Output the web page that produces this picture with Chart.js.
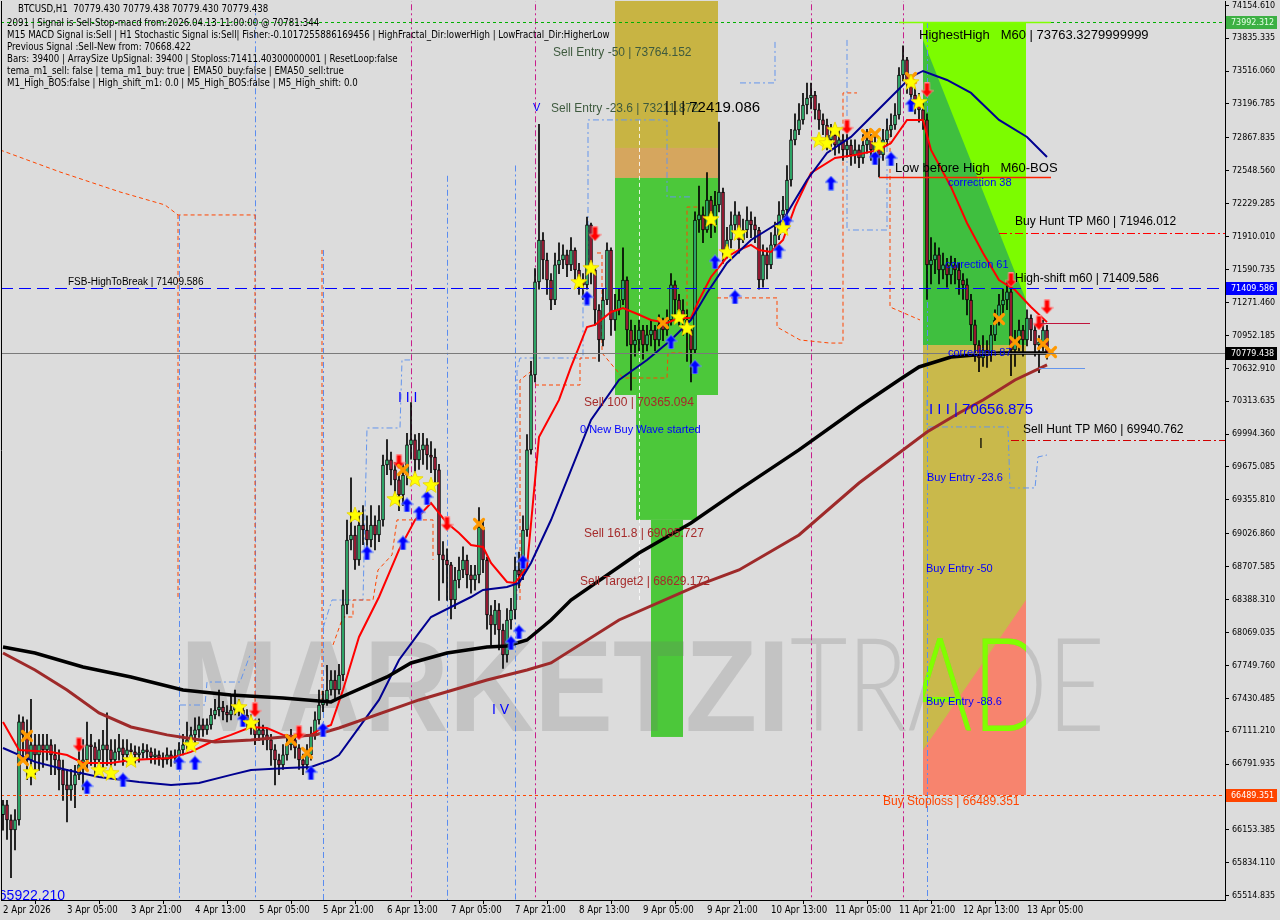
<!DOCTYPE html>
<html>
<head>
<meta charset="utf-8">
<script src="https://cdn.jsdelivr.net/npm/chart.js@4.4.1/dist/chart.umd.min.js"></script>
<style>
html, body { margin: 0; padding: 0; background: #dcdcdc; }
#chart { display: block; }
</style>
</head>
<body>
<canvas id="chart" width="1280" height="920"></canvas>
<script>
// BTCUSD H1 candles, bar 0 = 2 Apr 13:00
const firstOpen = 66300;
const closes = [
66396,66250,66153,66250,67201,67075,66832,66978,66881,66978,66929,66978,66881,
66832,66735,66590,66541,66590,66687,66784,66832,66978,66960,66832,66929,66978,
66929,66832,66910,66949,66881,66929,66910,66881,66900,66929,66910,66861,66881,
66852,66832,66881,66852,66871,66929,66978,67026,67075,67123,67172,67123,67172,
67268,67317,67346,67297,67268,67317,67365,67317,67268,67220,67143,67075,67123,
67075,67026,66929,66832,66784,66881,66978,67026,66949,66832,66784,66881,67075,
67220,67365,67414,67511,67608,67511,67656,68336,68966,69015,68772,69112,69063,
68966,69112,69015,69160,69694,69743,69646,69549,69403,69597,69889,69937,69743,
69840,69889,69791,69770,69646,68821,68772,68724,68384,68578,68675,68772,68627,
68578,68627,69092,68772,68239,68142,68287,68093,67850,68190,68287,68675,68627,
69063,69840,70568,71470,71877,71683,71489,71295,71635,71683,71732,71635,71780,
71586,71489,71441,72023,71586,71198,70907,71295,71780,71101,71198,71295,71489,
71004,70858,70907,71004,70858,70956,71004,70907,71053,71004,71101,71441,71295,
71198,71101,71004,70810,72071,72120,71974,72265,72023,72217,72343,71780,71877,
72023,72120,71877,71974,72071,72023,71974,71489,71732,71635,71829,71926,72120,
72168,72459,72848,72945,73042,73187,73255,73284,73139,73042,72993,72848,72896,
72799,72848,72751,72799,72702,72751,72673,72799,72848,72751,72799,72702,72848,
72945,72993,73090,73478,73624,73430,73284,73236,73139,73042,71635,71683,71732,
71586,71635,71538,71635,71586,71489,71441,71295,71053,70858,70732,70810,70790,
70956,71101,71247,71295,71373,70810,70907,71004,70907,71120,71004,70858,70888,
71004,70779.438
];
const highs = [
66440,66440,66300,66350,67270,67250,67220,67420,67080,67080,67080,67080,67030,
66980,66930,66830,66740,66740,66780,66950,67030,67200,67080,67000,67030,67120,
67290,67030,67030,67080,67030,67030,66990,66970,66960,66990,66980,66950,66940,
66920,66900,66950,66920,66930,67000,67080,67200,67150,67240,67250,67230,67230,
67330,67420,67510,67400,67360,67460,67510,67420,67360,67320,67270,67180,67230,
67170,67130,67080,66980,66890,66980,67080,67130,67060,66980,66890,66980,67150,
67300,67510,67500,67750,67700,67700,67760,68480,69160,69570,69100,69250,69300,
69200,69300,69200,69300,69790,69940,69820,69720,69600,69700,70000,70300,69990,
70000,70000,69950,69920,69850,69700,68950,68880,68750,68700,68800,68900,68820,
68720,68720,69280,69150,68800,68330,68380,68350,68150,68300,68400,68800,68850,
69200,69990,70700,71600,73000,71950,71750,71550,71750,71850,71830,71780,71900,
71800,71650,71550,72100,72040,71620,71250,71400,71850,71800,71350,71400,71800,
71520,71100,71050,71100,71050,71050,71100,71050,71150,71120,71200,71550,71480,
71350,71300,71200,71050,72150,72400,72200,72530,72300,72350,73020,72380,72000,
72150,72250,72150,72080,72200,72150,72100,72000,71830,71800,71950,72050,72250,
72300,72600,72950,73100,73200,73300,73400,73400,73320,73200,73100,73050,73000,
72950,72950,72900,72900,72850,72850,72800,72900,72950,72900,72900,72850,72950,
73050,73100,73200,73550,73760,73650,73480,73350,73300,73200,73100,71900,71850,
71800,71750,71700,71720,71700,71650,71550,71500,71350,71100,70900,70950,70900,
71050,71200,71350,71400,71480,71400,71000,71100,71050,71200,71150,71050,70950,
71100,71050
];
const lows = [
66150,66060,65690,65960,66200,66830,66640,66590,66690,66730,66760,66830,66690,
66690,66540,66440,66230,66440,66370,66640,66540,66740,66780,66690,66810,66740,
66780,66740,66780,66830,66780,66810,66830,66800,66810,66850,66840,66800,66790,
66780,66760,66790,66770,66800,66830,66880,66940,66980,66980,67050,67060,67080,
67130,67230,67260,67220,67200,67220,67270,67260,67200,67130,67080,66980,67020,
66980,66930,66780,66590,66690,66740,66830,66930,66850,66740,66690,66740,66830,
67030,67180,67300,67360,67460,67420,67470,67600,68250,68870,68680,68720,68920,
68800,68900,68870,68950,69100,69600,69500,69400,69250,69300,69500,69750,69620,
69650,69700,69650,69620,69500,68380,68550,68380,68200,68300,68500,68600,68500,
68450,68480,68550,68650,68100,67950,68050,67900,67720,67780,68100,68200,68500,
68580,69000,69800,70500,71400,71500,71350,71200,71250,71550,71600,71520,71580,
71480,71350,71300,71400,71450,71050,70700,70850,71250,70950,71000,71150,71250,
70850,70420,70750,70800,70720,70800,70850,70800,70850,70900,70950,71050,71150,
71050,70950,70700,70500,70780,71950,71850,71950,71900,71950,72150,71650,71700,
71800,71950,71750,71850,71900,71900,71850,71400,71420,71500,71600,71780,71880,
72050,72100,72400,72800,72900,73000,73100,73150,73050,72950,72900,72750,72780,
72700,72720,72650,72680,72600,72620,72580,72620,72720,72650,72680,72490,72650,
72800,72880,72950,73050,73420,73300,73200,73100,73020,72950,71300,71450,71550,
71450,71500,71420,71450,71450,71350,71300,71150,70900,70700,70600,70650,70640,
70700,70900,71050,71150,71200,70560,70650,70800,70750,70850,70900,70750,70590,
70800,70720
];

// moving averages, read at bar indexes
const redIdx = [0,4,12,16,20,27,32,42,47,52,57,62,66,70,74,77,79,82,85,89,94,99,103,107,111,114,117,120,122,126,128,131,134,139,142,146,148,152,155,158,162,166,169,172,174,177,181,184,187,189,192,195,198,202,208,213,219,222,226,230,232,237,241,245,249,253,257,261];
const redVal = [67200,66929,66910,66880,66803,66803,66832,66851,66910,67006,67075,67152,67142,67075,67055,67075,67123,67171,67511,68025,68413,68870,69160,69325,69131,69034,68918,68898,68743,68559,68549,68704,69966,70325,70645,71033,71053,71179,71217,71169,71101,71072,71120,71120,71295,71518,71712,71780,71829,71780,71761,71877,72198,72527,72673,72702,72751,72818,73042,73042,72751,72392,72042,71751,71489,71392,71227,71080];
const blueIdx = [0,8,16,24,34,42,49,57,62,71,77,82,84,94,99,104,107,112,117,120,126,129,132,137,141,147,154,161,167,172,176,181,187,195,201,206,212,217,222,227,230,236,242,249,256,261];
const blueVal = [66948,66813,66735,66667,66619,66590,66609,66687,66735,66754,66764,66832,66880,67414,67802,68064,68219,68316,68413,68481,68510,68549,68743,69160,69548,70131,70519,70713,70907,71101,71363,71654,71877,72071,72459,72721,72877,73071,73265,73459,73517,73430,73304,73042,72877,72683];
const blackIdx = [0,8,20,32,45,57,70,82,84,96,102,111,121,126,131,137,142,159,172,184,199,214,224,229,237,249,261];
const blackVal = [67928,67870,67734,67637,67511,67462,67433,67395,67433,67637,67773,67870,67928,67938,67996,68190,68384,68840,69131,69452,69840,70257,70519,70645,70742,70781,70781];
const brownIdx = [0,8,16,24,32,41,46,53,62,70,78,84,104,121,131,137,154,174,184,199,214,225,231,239,245,253,261];
const brownVal = [67870,67705,67511,67288,67152,67075,67045,67006,67026,67055,67075,67142,67414,67608,67705,67773,68190,68530,68675,69015,69519,69840,70014,70199,70325,70519,70665];

// fractal step lines (orange dashed and blue dash-dot), one entry per path
const orangePaths = [
  { idx: [-0.75,14.25,29.25,40.5,43.75,63], val: [72751,72537,72343,72217,72120,72120] },
  { idx: [43.75,43.75], val: [72120,68384] },
  { idx: [63,63], val: [72120,66977] },
  { idx: [79.75,79.75], val: [71780,67414] },
  { idx: [82.5,85,87.5,87.5,92.5,93.75,97.25,98.5,107.5,107.5], val: [67948,68219,68219,68384,68384,68675,68821,69161,69161,68772] },
  { idx: [129.25,129.25,132.5], val: [68384,70519,70616] },
  { idx: [133,144.25,144.25,148.5], val: [70470,70470,70732,70732] },
  { idx: [148.5,149.75,149.75,155,166,166.25,171,171,174.25], val: [71751,71751,70781,70538,70538,70781,70781,72197,72197] },
  { idx: [178.5,193.5,193.5,199.25,206.75,210,210,213.5], val: [71315,71315,71033,70907,70877,70877,73304,73304] },
  { idx: [221.75,221.75,229.25], val: [72974,71227,71101] }
];
const bluePaths = [
  { idx: [44.25,50.5,51,59.25,61.75], val: [67365,67365,67588,67588,67850] },
  { idx: [80,82.25,90,91,99.25,99.75,101.75], val: [68112,68384,68384,70053,70053,70713,70713] },
  { idx: [128.5,128.5,129.25,145,145], val: [68384,70616,70732,70732,71421] },
  { idx: [146.25,146.25,166,166,172.25], val: [71460,73042,73042,72295,72295] },
  { idx: [184.25,193,193], val: [73401,73401,73818] },
  { idx: [211,211,221,221], val: [73818,71974,71974,73071] },
  { idx: [231,231,251.25,251.75,258,258.75,261], val: [70325,70063,70063,69471,69471,69772,69791] }
];

// signal marks
const starIdx = [7,24,27,32,47,59,62,88,98,103,107,144,147,169,171,177,181,184,195,204,206,208,219,227,229];
const starVal = [66715,66735,66706,66832,66978,67346,67191,69209,69364,69558,69500,71470,71606,71130,71024,72081,71761,71945,71994,72848,72818,72945,72799,73410,73216];
const crossIdx = [6,5,20,72,76,100,119,165,216,218,227,249,253,260,262];
const crossVal = [67065,66832,66774,67026,66900,69646,69122,71072,72896,72906,73449,71111,70888,70868,70790];
const upIdx = [21,30,44,48,60,77,80,91,100,101,104,106,127,129,130,146,167,173,178,183,194,196,207,218,222,227];
const upVal = [66570,66638,66803,66803,67220,66706,67123,68840,68937,69306,69228,69374,67967,68074,68753,71314,70888,70645,71664,71324,71770,72052,72430,72673,72663,73187];
const downIdx = [19,63,74,99,111,148,211,231,252,259,261];
const downVal = [66978,67317,67094,69723,69122,71936,72974,73333,71489,71072,71227];

// axes
const yTicks = [74154.610,73835.335,73516.060,73196.785,72867.835,72548.560,72229.285,71910.010,71590.735,71271.460,70952.185,70632.910,70313.635,69994.360,69675.085,69355.810,69026.860,68707.585,68388.310,68069.035,67749.760,67430.485,67111.210,66791.935,66472.660,66153.385,65834.110,65514.835];
const xTickIdx = [0,16,32,48,64,80,96,112,128,144,160,176,192,208,224,240,256];
const xTickLabels = ["2 Apr 2026","3 Apr 05:00","3 Apr 21:00","4 Apr 13:00","5 Apr 05:00","5 Apr 21:00","6 Apr 13:00","7 Apr 05:00","7 Apr 21:00","8 Apr 13:00","9 Apr 05:00","9 Apr 21:00","10 Apr 13:00","11 Apr 05:00","11 Apr 21:00","12 Apr 13:00","13 Apr 05:00"];

const FONT = '"Liberation Sans", Arial, sans-serif';
const UIFONT = '"DejaVu Sans Condensed", "Liberation Sans", sans-serif';

const headerLines = [
  "BTCUSD,H1  70779.430 70779.438 70779.430 70779.438",
  "2091 | Signal is Sell-Stop-macd from:2026.04.13 11:00:00 @ 70781:344",
  "M15 MACD Signal is:Sell | H1 Stochastic Signal is:Sell| Fisher:-0.1017255886169456 | HighFractal_Dir:lowerHigh | LowFractal_Dir:HigherLow",
  "Previous Signal :Sell-New from: 70668.422",
  "Bars: 39400 | ArraySize UpSignal: 39400 | Stoploss:71411.40300000001 | ResetLoop:false",
  "tema_m1_sell: false | tema_m1_buy: true | EMA50_buy:false | EMA50_sell:true",
  "M1_High_BOS:false | High_shift_m1: 0.0 | M5_High_BOS:false | M5_High_shift: 0.0"
];

// zones: bar index range and price range
const zones = [
  { i0: 153, i1: 178.75, top: 74300, bottom: 72770, color: '#c8b443' },
  { i0: 153, i1: 178.75, top: 72770, bottom: 72479, color: '#d6a65e' },
  { i0: 153, i1: 178.75, top: 72479, bottom: 70373, color: '#4cc83a' },
  { i0: 158.25, i1: 173.5, top: 70373, bottom: 69161, color: '#4cc83a' },
  { i0: 162, i1: 170, top: 69161, bottom: 67055, color: '#4cc83a' },
  { i0: 230, i1: 255.75, top: 73992, bottom: 70858, color: '#7cfc00' },
  { i0: 230, i1: 255.75, top: 70858, bottom: 66493, color: '#c9b94b' }
];
const zonePolys = [
  { pts: [[230, 73818], [255.75, 71295], [255.75, 70858], [230, 70858]], color: '#3fbf3f' },
  { pts: [[230, 66929], [255.75, 68384], [255.75, 66493], [230, 66493]], color: '#f7846e' }
];

const levels = [
  { v: 73992.312, color: '#00b000', dash: [3, 3], w: 1 },
  { v: 71409.586, color: '#0000ff', dash: [12, 6], w: 1 },
  { v: 70779.438, color: '#7a7a7a', dash: [], w: 1 },
  { v: 66489.351, color: '#ff4500', dash: [3, 3], w: 1 },
  { v: 71946.012, i0: 249, color: '#ff0000', dash: [8, 3, 2, 3], w: 1 },
  { v: 69940.762, i0: 252, color: '#d00000', dash: [8, 3, 2, 3], w: 1 },
  { v: 72489, i0: 219, i1: 262, color: '#ff2000', dash: [], w: 1.5 },
  { v: 73992.312, i0: 224, i1: 262, color: '#80ff00', dash: [], w: 1.5 },
  { v: 71072, i0: 259, i1: 271.75, color: '#c0143c', dash: [], w: 1 },
  { v: 70636, i0: 259, i1: 270.5, color: '#6495ed', dash: [], w: 1 }
];

const vLines = [
  { i: 44, top: 72120, color: '#5a8cf0' },
  { i: 63, top: 74300, color: '#5a8cf0' },
  { i: 80, top: 71780, color: '#5a8cf0' },
  { i: 111, top: 72500, color: '#5a8cf0' },
  { i: 128, top: 72600, color: '#5a8cf0' },
  { i: 231, top: 73992, color: '#5a8cf0' },
  { i: 102, top: 74300, color: '#c81e8c' },
  { i: 133, top: 74300, color: '#c81e8c' },
  { i: 202, top: 74300, color: '#c81e8c' },
  { i: 225, top: 74300, color: '#c81e8c' }
];

const notes = [
  ["Sell Entry -50 | 73764.152", 137.5, 73692, '#3e5a3e', 12],
  ["Sell Entry -23.6 | 73211.872", 137, 73148, '#3e5a3e', 12],
  ["| | | 72419.086", 165.5, 73158, '#000000', 15],
  ["V", 132.5, 73158, '#0000ff', 11],
  ["HighestHigh   M60 | 73763.3279999999", 229, 73866, '#000000', 13],
  ["Low before High   M60-BOS", 223, 72576, '#000000', 13],
  ["correction 38", 236.25, 72430, '#0000ff', 11],
  ["Buy Hunt TP M60 | 71946.012", 253, 72052, '#000000', 12],
  ["correction 61", 235.5, 71635, '#0000ff', 11],
  ["High-shift m60 | 71409.586", 253, 71499, '#000000', 12],
  ["correction 87", 236.25, 70781, '#0000ff', 11],
  ["FSB-HighToBreak | 71409.586", 16.25, 71470, '#000000', 10],
  ["I I I | 70656.875", 231.5, 70228, '#0000ff', 15],
  ["Sell Hunt TP M60 | 69940.762", 255, 70034, '#000000', 12],
  ["Sell 100 | 70365.094", 145.25, 70296, '#a52a2a', 12],
  ["0 New Buy Wave started", 144.25, 70034, '#0000ff', 11],
  ["Sell 161.8 | 69095.727", 145.25, 69024, '#a52a2a', 12],
  ["Sell Target2 | 68629.172", 144.25, 68559, '#a52a2a', 12],
  ["Buy Entry -23.6", 231, 69568, '#0000ff', 11],
  ["Buy Entry -50", 230.75, 68685, '#0000ff', 11],
  ["Buy Entry -88.6", 230.75, 67395, '#0000ff', 11],
  ["Buy Stoploss | 66489.351", 220, 66424, '#ff4500', 12],
  ["I I I", 98.75, 70344, '#0000ff', 14],
  ["I V", 122.25, 67317, '#0000ff', 14],
  ["I", 244, 69898, '#000000', 14]
];

const priceBoxes = [
  { v: 73992.312, bg: '#3cb043', fg: '#e6ffe6' },
  { v: 71409.586, bg: '#0000ff', fg: '#ffffff' },
  { v: 70779.438, bg: '#000000', fg: '#ffffff' },
  { v: 66489.351, bg: '#ff4500', fg: '#ffffff' }
];

// ---- point icons ----
function makeIcon(w, h, draw) {
  const c = document.createElement('canvas');
  c.width = w; c.height = h;
  draw(c.getContext('2d'), w, h);
  return c;
}
const starIcon = makeIcon(18, 18, g => {
  g.beginPath();
  for (let k = 0; k < 10; k++) {
    const r = k % 2 ? 3.6 : 8.5;
    const a = -Math.PI / 2 + k * Math.PI / 5;
    g.lineTo(9 + r * Math.cos(a), 9.5 + r * Math.sin(a));
  }
  g.closePath();
  g.fillStyle = '#ffff00'; g.fill();
  g.strokeStyle = '#e8d000'; g.lineWidth = 0.8; g.stroke();
});
const crossIcon = makeIcon(14, 14, g => {
  g.strokeStyle = '#ff9900'; g.lineWidth = 3.2; g.lineCap = 'round';
  g.beginPath(); g.moveTo(2.5, 2.5); g.lineTo(11.5, 11.5); g.moveTo(11.5, 2.5); g.lineTo(2.5, 11.5); g.stroke();
});
function arrowIcon(color, edge, down) {
  return makeIcon(13, 15, g => {
    if (down) { g.translate(0, 15); g.scale(1, -1); }
    g.beginPath();
    g.moveTo(6.5, 0.5); g.lineTo(12.5, 7); g.lineTo(9, 7); g.lineTo(9, 14.5);
    g.lineTo(4, 14.5); g.lineTo(4, 7); g.lineTo(0.5, 7); g.closePath();
    g.fillStyle = color; g.fill();
    g.strokeStyle = edge; g.lineWidth = 1; g.stroke();
  });
}
const upIcon = arrowIcon('#0000ff', '#6f8fff', false);
const downIcon = arrowIcon('#ff0000', '#ff8a8a', true);

// ---- datasets ----
const opens = closes.map((c, i) => i === 0 ? firstOpen : closes[i - 1]);
const bodyData = closes.map((c, i) => ({ x: i, y: [opens[i], c] }));
const bodyColors = closes.map((c, i) => c >= opens[i] ? '#36c47a' : '#b01e3a');
const wickData = closes.map((c, i) => ({ x: i, y: [lows[i], highs[i]] }));

const pts = (idx, val) => idx.map((x, k) => ({ x: x, y: val[k] }));

function lineSet(idx, val, color, width) {
  return { type: 'line', data: pts(idx, val), borderColor: color, borderWidth: width,
    pointRadius: 0, tension: 0, fill: false, order: 2 };
}
function pathSet(p, color, dash) {
  return { type: 'line', data: pts(p.idx, p.val), borderColor: color, borderWidth: 1,
    borderDash: dash, pointRadius: 0, tension: 0, fill: false, order: 7 };
}
function markSet(idx, val, icon) {
  return { type: 'line', data: pts(idx, val), showLine: false, pointStyle: icon,
    pointRadius: 7, pointHoverRadius: 7, order: 0 };
}

// ---- drawing helpers ----
const X = (c, i) => c.scales.x.getPixelForValue(i);
const Y = (c, v) => c.scales.y.getPixelForValue(v);

const backdrop = {
  id: 'backdrop',
  beforeDraw(c) {
    const g = c.ctx;
    g.save();
    g.fillStyle = '#dcdcdc';
    g.fillRect(0, 0, c.width, c.height);
    g.restore();
  },
  beforeDatasetsDraw(c) {
    const g = c.ctx, a = c.chartArea;
    g.save();
    g.beginPath(); g.rect(a.left, a.top, a.right - a.left, a.bottom - a.top); g.clip();
    zones.forEach(z => {
      const x0 = X(c, z.i0), x1 = X(c, z.i1), y0 = Y(c, z.top), y1 = Y(c, z.bottom);
      g.fillStyle = z.color;
      g.fillRect(x0, y0, x1 - x0, y1 - y0);
    });
    zonePolys.forEach(p => {
      g.beginPath();
      p.pts.forEach(([i, v], k) => k ? g.lineTo(X(c, i), Y(c, v)) : g.moveTo(X(c, i), Y(c, v)));
      g.closePath(); g.fillStyle = p.color; g.fill();
    });
    // watermark
    const base = Y(c, 67113);
    g.textBaseline = 'alphabetic'; g.textAlign = 'left';
    g.font = 'bold 130px ' + FONT;
    let w = g.measureText('MARKETZI').width;
    g.save(); g.translate(X(c, 44.25), base); g.scale(610 / w, 1);
    g.fillStyle = 'rgba(110,110,110,0.22)'; g.fillText('MARKETZI', 0, 0); g.restore();
    g.font = '300 130px Lato, ' + FONT;
    w = g.measureText('TRADE').width;
    g.save(); g.translate(X(c, 196.75), base); g.scale(315 / w, 1);
    g.fillStyle = 'rgba(110,110,110,0.22)'; g.fillText('TRADE', 0, 0); g.restore();
    g.save();
    g.beginPath(); g.rect(X(c, 230), Y(c, 70858), X(c, 255.75) - X(c, 230), Y(c, 66493) - Y(c, 70858)); g.clip();
    g.translate(X(c, 196.75), base); g.scale(315 / w, 1);
    g.fillStyle = '#80ff00'; g.fillText('TRADE', 0, 0);
    g.restore();
    // vertical separators
    g.lineWidth = 1;
    g.setLineDash([6, 3, 2, 3]);
    vLines.forEach(l => {
      const x = Math.round(X(c, l.i)) + 0.5;
      g.strokeStyle = l.color;
      g.beginPath(); g.moveTo(x, Y(c, l.top)); g.lineTo(x, a.bottom); g.stroke();
    });
    g.strokeStyle = 'rgba(255,255,255,0.85)'; g.setLineDash([4, 3]);
    const wx = Math.round(X(c, 159)) + 0.5;
    g.beginPath(); g.moveTo(wx, Y(c, 73042)); g.lineTo(wx, Y(c, 68384)); g.stroke();
    g.restore();
  },
  afterDatasetsDraw(c) {
    const g = c.ctx, a = c.chartArea;
    g.save();
    g.beginPath(); g.rect(a.left, a.top, a.right - a.left, a.bottom - a.top); g.clip();
    levels.forEach(l => {
      const y = Math.round(Y(c, l.v)) + 0.5;
      const x0 = l.i0 === undefined ? a.left : X(c, l.i0);
      const x1 = l.i1 === undefined ? a.right : X(c, l.i1);
      g.strokeStyle = l.color; g.lineWidth = l.w; g.setLineDash(l.dash);
      g.beginPath(); g.moveTo(x0, y); g.lineTo(x1, y); g.stroke();
    });
    g.setLineDash([]);
    g.textBaseline = 'middle'; g.textAlign = 'left';
    notes.forEach(([s, i, v, col, size]) => {
      g.font = size + 'px ' + FONT; g.fillStyle = col;
      g.fillText(s, X(c, i), Y(c, v));
    });
    g.font = '14px ' + FONT; g.fillStyle = '#0000ff'; g.textAlign = 'right';
    g.fillText('65922.210', X(c, 15.5), a.bottom - 4);
    g.restore();

    // header text
    g.save();
    g.textBaseline = 'middle'; g.textAlign = 'left';
    g.font = '9.6px ' + UIFONT; g.fillStyle = '#000';
    headerLines.forEach((s, k) => {
      g.fillText(s, k === 0 ? 18 : 7, k === 0 ? 9 : 11 + 12 * k);
    });
    // frame
    g.strokeStyle = '#000'; g.lineWidth = 1;
    g.beginPath(); g.moveTo(a.left + 0.5, a.top); g.lineTo(a.left + 0.5, a.bottom); g.stroke();
    g.restore();
  },
  afterDraw(c) {
    const g = c.ctx, a = c.chartArea;
    g.save();
    g.font = '8.9px ' + UIFONT; g.textBaseline = 'middle'; g.textAlign = 'left';
    priceBoxes.forEach(b => {
      const y = Math.round(Y(c, b.v));
      g.fillStyle = b.bg; g.fillRect(a.right + 1, y - 6, 51, 13);
      g.fillStyle = b.fg; g.fillText(b.v.toFixed(3), a.right + 6, y + 0.5);
    });
    g.restore();
  }
};

new Chart(document.getElementById('chart').getContext('2d'), {
  type: 'bar',
  data: {
    datasets: [
      markSet(starIdx, starVal, starIcon),
      markSet(crossIdx, crossVal, crossIcon),
      markSet(upIdx, upVal, upIcon),
      markSet(downIdx, downVal, downIcon),
      lineSet(brownIdx, brownVal, '#9e2a2a', 3),
      lineSet(blackIdx, blackVal, '#000000', 3.5),
      lineSet(blueIdx, blueVal, '#000090', 2),
      lineSet(redIdx, redVal, '#ff0000', 2),
      { type: 'bar', data: bodyData, backgroundColor: bodyColors, borderColor: '#000', borderWidth: 1,
        borderSkipped: false, barThickness: 3, grouped: false, order: 5 },
      { type: 'bar', data: wickData, backgroundColor: '#000', borderWidth: 0,
        barThickness: 1, grouped: false, order: 6 },
      ...orangePaths.map(p => pathSet(p, '#ff4500', [4, 3])),
      ...bluePaths.map(p => pathSet(p, '#6495ed', [6, 3, 2, 3]))
    ]
  },
  options: {
    responsive: false,
    animation: false,
    devicePixelRatio: 1,
    layout: { autoPadding: false, padding: { left: 1, top: 1, right: 0, bottom: 0 } },
    plugins: { legend: { display: false }, tooltip: { enabled: false } },
    scales: {
      x: {
        type: 'linear', min: -0.5, max: 305.5, offset: false,
        grid: { drawOnChartArea: false, drawTicks: true, tickLength: 4, color: '#000' },
        border: { display: true, color: '#000' },
        afterBuildTicks: s => { s.ticks = xTickIdx.map(v => ({ value: v })); },
        afterFit: s => { s.height = 20; s.paddingLeft = 0; s.paddingRight = 0; },
        ticks: {
          autoSkip: false, maxRotation: 0, minRotation: 0, align: 'start', padding: 1,
          color: '#000', font: { family: UIFONT, size: 9.6 },
          callback: v => xTickLabels[xTickIdx.indexOf(v)]
        }
      },
      y: {
        position: 'right', min: 65473, max: 74196,
        grid: { drawOnChartArea: false, drawTicks: true, tickLength: 4, color: '#000' },
        border: { display: true, color: '#000' },
        afterBuildTicks: s => { s.ticks = yTicks.map(v => ({ value: v })); },
        afterFit: s => { s.width = 55; s.paddingTop = 0; s.paddingBottom = 0; },
        ticks: {
          autoSkip: false, padding: 3, color: '#000', font: { family: UIFONT, size: 8.9 },
          callback: v => Number(v).toFixed(3)
        }
      }
    }
  },
  plugins: [backdrop]
});
</script>
</body>
</html>
